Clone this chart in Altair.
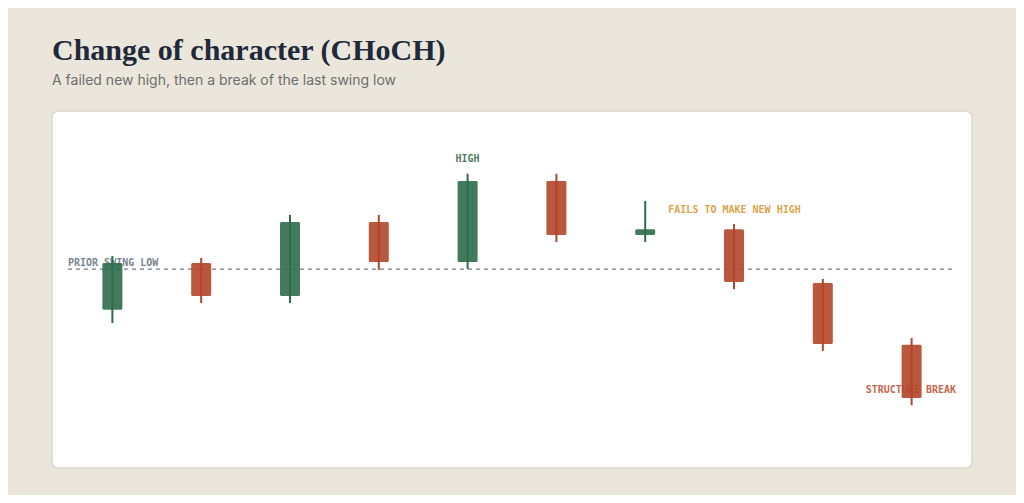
import altair as alt
import pandas as pd

# Candle data (arbitrary price units)
idx = [1, 2, 3, 4, 5, 6, 7, 8, 9, 10]
opens = [44.3, 57.4, 48.2, 68.9, 57.7, 80.4, 65.3, 66.9, 51.8, 34.5]
highs = [59.4, 58.8, 70.9, 70.9, 82.4, 82.4, 74.8, 68.3, 53.0, 36.4]
lows = [40.6, 46.2, 46.2, 55.5, 55.7, 63.3, 63.3, 50.1, 32.8, 17.6]
closes = [57.4, 48.2, 68.9, 57.7, 80.4, 65.3, 66.9, 52.1, 34.7, 19.6]

swing_low = 55.7

label_text = ["PRIOR SWING LOW", "HIGH", "FAILS TO MAKE NEW HIGH", "STRUCTURE BREAK"]
label_x = [0.5, 5, 7.26, 10.5]
label_y = [56.6, 85.7, 71.4, 21.0]
label_align = ["left", "center", "left", "right"]
label_color = ["#6b7785", "#3d6e50", "#d99a3a", "#c0553a"]

GREEN = "#2f6c4b"
RED = "#b2462a"

df = pd.DataFrame({"i": idx, "open": opens, "high": highs, "low": lows, "close": closes})
df["dir"] = ["up" if c >= o else "down" for o, c in zip(opens, closes)]

xs = alt.Scale(domain=[0.32, 10.68], nice=False, zero=False, padding=0)
ys = alt.Scale(domain=[0, 100], nice=False, zero=False, padding=0)
col = alt.Color("dir:N", scale=alt.Scale(domain=["up", "down"], range=[GREEN, RED]), legend=None)

base = alt.Chart(df)

line_df = pd.DataFrame({"x1": [0.5], "x2": [10.5], "y": [swing_low]})
swing = alt.Chart(line_df).mark_rule(color="#6d7a8a", strokeDash=[4, 4], strokeWidth=1.2).encode(
    x=alt.X("x1:Q", scale=xs, axis=None), x2="x2:Q", y=alt.Y("y:Q", scale=ys, axis=None)
)

labels = []
for t, lx, ly, la, lc in zip(label_text, label_x, label_y, label_align, label_color):
    ldf = pd.DataFrame({"x": [lx], "y": [ly], "t": [t]})
    labels.append(
        alt.Chart(ldf).mark_text(
            font="DejaVu Sans Mono", fontSize=10, fontWeight="bold", align=la,
            baseline="alphabetic", color=lc, opacity=0.9
        ).encode(x=alt.X("x:Q", scale=xs, axis=None), y=alt.Y("y:Q", scale=ys, axis=None), text="t:N")
    )

bodies = base.mark_bar(size=20, cornerRadius=1.5, opacity=0.9).encode(
    x=alt.X("i:Q", scale=xs, axis=None),
    y=alt.Y("open:Q", scale=ys, axis=None),
    y2="close:Q",
    color=col,
)
wicks = base.mark_rule(strokeWidth=2).encode(
    x=alt.X("i:Q", scale=xs, axis=None),
    y=alt.Y("low:Q", scale=ys, axis=None),
    y2="high:Q",
    color=col,
)

chart = alt.layer(swing, *labels, bodies, wicks).properties(
    width=920,
    height=357,
    background="#ebe6dc",
    padding={"left": 44, "right": 44, "top": 103, "bottom": 27},
    autosize=alt.AutoSizeParams(type="none"),
    title=alt.TitleParams(
        text="Change of character (CHoCH)",
        subtitle="A failed new high, then a break of the last swing low",
        anchor="start",
        frame="group",
        font="Liberation Serif",
        fontSize=30,
        fontWeight="bold",
        color="#1e2a3a",
        subtitleFont="Inter",
        subtitleFontSize=14,
        subtitleColor="#6e6e6e",
        subtitlePadding=8,
        offset=23,
    ),
).configure_view(
    fill="white", stroke="#dcd6c8", strokeWidth=1.5, cornerRadius=6
)

chart.save("out.html", embed_options={"renderer": "svg", "actions": False})
